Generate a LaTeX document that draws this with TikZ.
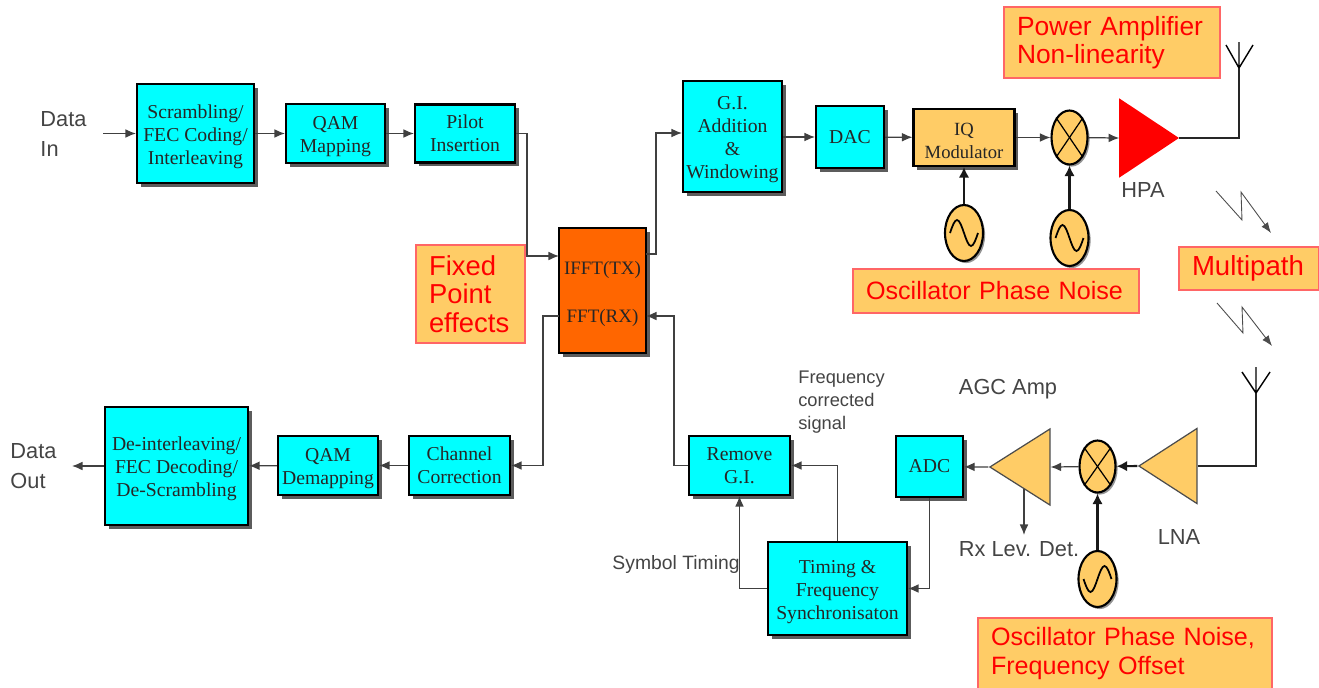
\documentclass[tikz,border=0pt]{standalone}
\usepackage{fontspec}
\setmainfont{Liberation Serif}
\setsansfont{Liberation Sans}
\usetikzlibrary{arrows.meta,shapes.geometric,shadows}
\definecolor{blockcyan}{HTML}{00FFFF}
\definecolor{paleorange}{HTML}{FFCC66}
\definecolor{fftorange}{HTML}{FF6600}
\definecolor{noteline}{HTML}{FF6666}
\definecolor{labelgrey}{HTML}{444444}
\newcommand{\dn}{\rule{0pt}{11.2pt}}

\begin{document}
\begin{tikzpicture}[x=0.02cm, y=-0.02cm,
        sized/.style 2 args={minimum width=#1*0.02cm, minimum height=#2*0.02cm},
        block/.style={draw=black, line width=1.2pt, align=center, inner sep=0pt,
            font=\fontsize{11.2}{13}\selectfont, text=black!85,
            drop shadow={shadow xshift=2.2pt, shadow yshift=-2.2pt, fill=black!80, opacity=.8}},
        cyanblock/.style={block, fill=blockcyan},
        note/.style n args={3}{draw=noteline, line width=.8pt, fill=paleorange, text=red, align=left,
            text width=(#1-26)*0.02cm, inner xsep=13*0.02cm, inner ysep=0pt,
            minimum height=#2*0.02cm, font=\sffamily\fontsize{#3}{16.2}\selectfont},
        round/.style={ellipse, draw=black, line width=1.2pt, fill=paleorange, inner sep=0pt,
            drop shadow={shadow xshift=1.2pt, shadow yshift=-1.2pt, fill=black!60, opacity=.7}},
        amp/.style={isosceles triangle, isosceles triangle stretches, inner sep=0pt, draw=black!70,
            line width=.7pt, fill=paleorange},
        caption/.style={font=\sffamily\fontsize{12.4}{17}\selectfont, text=labelgrey, align=left, inner sep=0pt},
        small/.style={font=\sffamily\fontsize{10.4}{13}\selectfont, text=labelgrey, align=left, inner sep=0pt},
        conn/.style={draw=black!75, line width=.7pt, -{Latex[length=6pt,width=5pt]}},
        heavy/.style={draw=black!90, line width=1.2pt, -{Latex[length=6pt,width=6pt]}},
        wire/.style={draw=black!85, line width=1.2pt, line join=miter},
        zigzag/.style={draw=black!70, line width=.5pt, -{Latex[length=6pt,width=4.5pt]}}]

    \useasboundingbox (0,0) rectangle (1319,687);

    % --- Transmit chain ---
    \node[cyanblock, sized={117}{99}] (scramble) at (195.5,133.5) {\dn Scrambling/\\FEC Coding/\\Interleaving};
    \node[cyanblock, sized={99}{59}] (qammap) at (335.5,133.5) {\dn QAM\\Mapping};
    \node[cyanblock, sized={100}{58}] (pilot) at (465,133.5) {Pilot\\Insertion};
    \node[cyanblock, sized={99}{111}] (guard) at (732.5,136.5) {\dn G.I.\\Addition\\\&\\Windowing};
    \node[cyanblock, sized={68}{62}] (dac) at (850,137) {DAC};
    \node[block, fill=paleorange, sized={101}{57}, font=\fontsize{10.6}{13}\selectfont] (iqmod) at (964,137.5) {\dn IQ\\Modulator};
    \node[round, sized={36}{54}] (mixtx) at (1069.5,137.5) {};
    \node[amp, fill=red, draw=red, sized={77}{58}] (hpa) at (1140.5,138) {};
    \node[round, sized={38}{56}] (osciq) at (964,233) {};
    \node[round, sized={38}{56}] (osctx) at (1069.5,238) {};

    % --- FFT block ---
    \node[block, fill=fftorange, sized={87}{125}, font=\fontsize{10.8}{27}\selectfont] (fft) at (602.5,290.5) {\dn IFFT(TX)\\FFT(RX)};

    % --- Receive chain ---
    \node[cyanblock, sized={143}{118}] (deinter) at (176.5,466) {\dn De-interleaving/\\FEC Decoding/\\De-Scrambling};
    \node[cyanblock, sized={100}{59}] (qamdemap) at (328,465.5) {\dn QAM\\Demapping};
    \node[cyanblock, sized={101}{59}] (chancorr) at (459.5,465.5) {Channel\\Correction};
    \node[cyanblock, sized={101}{59}] (removegi) at (739.5,465.5) {Remove\\G.I.};
    \node[cyanblock, sized={139}{93}] (timing) at (837.5,588.5) {\dn Timing \&\\Frequency\\Synchronisaton};
    \node[cyanblock, sized={67}{61}] (adc) at (929.5,466.5) {ADC};
    \node[amp, shape border rotate=180, sized={76}{60}] (agc) at (1029,467) {};
    \node[round, sized={36}{52}] (mixrx) at (1097.5,466.5) {};
    \node[amp, shape border rotate=180, sized={75}{58}] (lna) at (1176.5,466) {};
    \node[round, sized={38}{56}] (oscrx) at (1097.5,579) {};

    % --- Notes ---
    \node[note={216}{71}{15}] (notepa) at (1112,42.5) {Power Amplifier\\Non-linearity};
    \node[note={109}{98}{15.6}] (notefixed) at (470.5,294) {Fixed\\Point\\effects};
    \node[note={286}{44}{14.3}] (noteosc) at (996,291) {Oscillator Phase Noise};
    \node[note={140}{43}{15.7}] (notemulti) at (1249,268.5) {Multipath};
    \node[note={294}{71}{14.3}] (noterx) at (1125,653.5) {Oscillator Phase Noise,\\Frequency Offset};

    % --- Labels ---
    \node[caption] (datain) at (63.5,134) {Data\\In};
    \node[caption] (dataout) at (33.5,466) {Data\\Out};
    \node[caption] (hpalabel) at (1143,190) {HPA};
    \node[caption] (agclabel) at (1008,389) {AGC Amp};
    \node[caption] (rxlabel) at (1019,549) {Rx Lev. Det.};
    \node[caption] (lnalabel) at (1179,537) {LNA};
    \node[small] (freqlabel) at (841.5,402) {Frequency\\corrected\\signal};
    \node[small, font=\sffamily\fontsize{11}{13}\selectfont] (symlabel) at (676,564) {Symbol Timing};

    % --- Free ends and bends ---
    \coordinate (inend) at (103,133.5);
    \coordinate (outend) at (72,466);
    \coordinate (pilotbend) at (527,256);
    \coordinate (fftin) at (559,256);
    \coordinate (fftout) at (646,254);
    \coordinate (txbend) at (656,133);
    \coordinate (fftrxout) at (559,316);
    \coordinate (fftrxin) at (646,316);
    \coordinate (rxbend) at (543,465.5);
    \coordinate (removebend) at (674,465.5);
    \coordinate (rxtap) at (1024,489);
    \coordinate (rxdet) at (1024,535);
    \coordinate (anttx) at (1239,68);
    \coordinate (antrx) at (1256,393);

    % --- Connectors ---
    \draw[conn] (inend) -- (scramble);
    \draw[conn] (scramble) -- (qammap);
    \draw[conn] (qammap) -- (pilot);
    \draw[conn] (pilot.east) -| (pilotbend) -- (fftin);
    \draw[conn] (fftout) -| (txbend) -- (guard.west |- txbend);
    \draw[conn] (guard.east |- dac) -- (dac);
    \draw[conn] (dac) -- (iqmod);
    \draw[conn] (iqmod) -- (mixtx);
    \draw[conn] (mixtx) -- (hpa.west);
    \draw[heavy] (osciq) -- (iqmod);
    \draw[heavy] (osctx) -- (mixtx);
    \draw[wire] (hpa.apex) -| (anttx);
    \draw[conn] (fftrxout) -| (rxbend) -- (chancorr.east |- rxbend);
    \draw[conn] (chancorr) -- (qamdemap);
    \draw[conn] (qamdemap) -- (deinter);
    \draw[conn] (deinter) -- (outend);
    \draw[conn] (removegi.west) -- (removebend) |- (fftrxin);
    \draw[conn] (timing.north) |- (removegi.east);
    \draw[conn] (timing.west) -| (removegi.south);
    \draw[conn] (adc.south) |- (timing.east);
    \draw[conn] (agc.apex) -- (adc);
    \draw[conn] (mixrx) -- (agc.east);
    \draw[heavy] (lna.apex) -- (mixrx);
    \draw[heavy] (oscrx) -- (mixrx);
    \draw[conn] (rxtap) -- (rxdet);
    \draw[wire] (lna.east) -| (antrx);

    % --- Mixer crosses ---
    \foreach \mixer in {mixtx,mixrx} {
        \draw[line width=.7pt] (\mixer.north west) -- (\mixer.south east);
        \draw[line width=.7pt] (\mixer.north east) -- (\mixer.south west);
    }

    % --- Oscillator waves ---
    \foreach \osc/\dir in {osciq/1,osctx/1,oscrx/-1} {
        \draw[line width=1pt] (\osc) ++(-14,0) sin ++(7,-13*\dir) cos ++(7,13*\dir) sin ++(7,13*\dir) cos ++(7,-13*\dir);
    }

    % --- Antennas ---
    \draw[line width=.8pt] (anttx) -- (1239,42) (anttx) -- (1226,45) (anttx) -- (1253,45);
    \draw[line width=.8pt] (antrx) -- (1256,367) (antrx) -- (1242,372) (antrx) -- (1270,372);

    % --- Multipath rays ---
    \draw[zigzag] (1216,191) -- (1242,220) -- (1241,192) -- (1271,233);
    \draw[zigzag] (1217,303) -- (1243,333) -- (1242,307) -- (1272,346);

\end{tikzpicture}
\end{document}
